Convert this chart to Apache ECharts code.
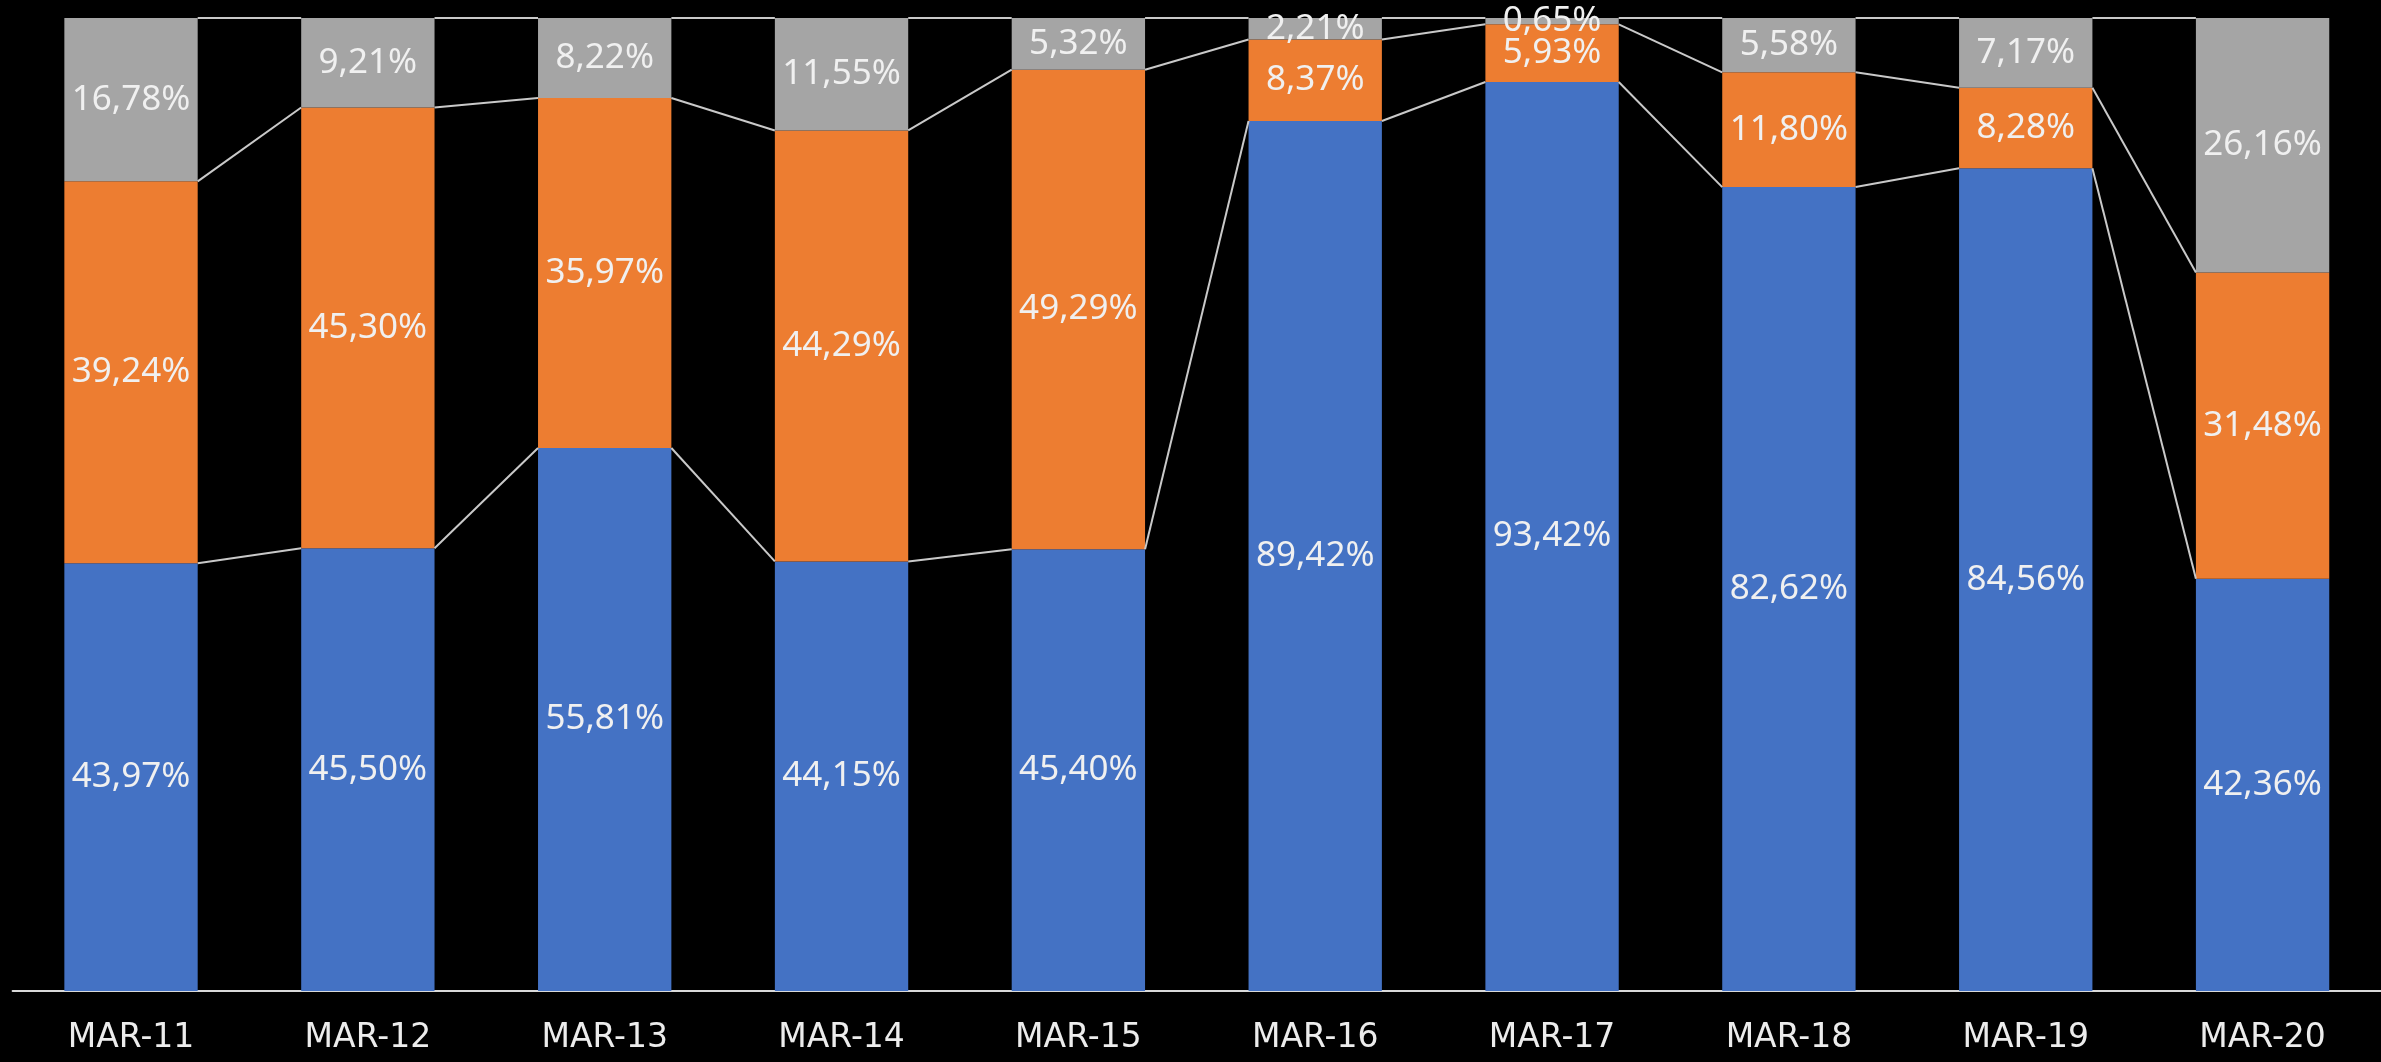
<!DOCTYPE html>
<html>
<head>
<meta charset="utf-8">
<script src="https://cdn.jsdelivr.net/npm/echarts@6/dist/echarts.min.js"></script>
<style>
  html, body { margin: 0; padding: 0; background: #000; }
  #chart { width: 2381px; height: 1062px; }
</style>
</head>
<body>
<div id="chart"></div>
<script>
// Yearly shares (percent) per March snapshot
const categories = ['MAR-11', 'MAR-12', 'MAR-13', 'MAR-14', 'MAR-15', 'MAR-16', 'MAR-17', 'MAR-18', 'MAR-19', 'MAR-20'];
const blueShare   = [43.97, 45.50, 55.81, 44.15, 45.40, 89.42, 93.42, 82.62, 84.56, 42.36];
const orangeShare = [39.24, 45.30, 35.97, 44.29, 49.29, 8.37, 5.93, 11.80, 8.28, 31.48];
const grayShare   = [16.78, 9.21, 8.22, 11.55, 5.32, 2.21, 0.65, 5.58, 7.17, 26.16];

const BAR_RATIO = 0.563;
const FONT = '"Noto Sans", "DejaVu Sans", sans-serif';

const fmt = v => v.toFixed(2).replace('.', ',') + '%';

// Cumulative tops of each stacked segment, used for the connector lines
const cumBlue = blueShare.slice();
const cumOrange = blueShare.map((v, i) => v + orangeShare[i]);
const cumGray = blueShare.map((v, i) => v + orangeShare[i] + grayShare[i]);

const connectorData = [];
[cumBlue, cumOrange, cumGray].forEach(level => {
  for (let i = 0; i < level.length - 1; i++) {
    connectorData.push([i, level[i], level[i + 1]]);
  }
});

function barSeries(name, data, color) {
  return {
    name: name,
    type: 'bar',
    stack: 'share',
    barWidth: (BAR_RATIO * 100) + '%',
    data: data,
    itemStyle: { color: color },
    label: {
      show: true,
      position: 'inside',
      color: '#f0f0f0',
      fontFamily: FONT,
      fontSize: 35,
      formatter: p => fmt(p.value)
    },
    emphasis: { disabled: true },
    z: 2
  };
}

const chart = echarts.init(document.getElementById('chart'), null, { renderer: 'canvas' });
chart.setOption({
  backgroundColor: '#000000',
  animation: false,
  grid: { left: 12.6, top: 18, width: 2381, bottom: 71, containLabel: false },
  xAxis: {
    type: 'category',
    data: categories,
    axisLine: { show: true, lineStyle: { color: '#d9d9d9', width: 2 } },
    axisTick: { show: false },
    axisLabel: {
      color: '#ececec',
      fontFamily: '"DejaVu Sans", sans-serif',
      fontSize: 33,
      margin: 31
    }
  },
  yAxis: {
    type: 'value',
    min: 0,
    max: 100,
    show: false,
    splitLine: { show: false }
  },
  series: [
    barSeries('blue', blueShare, '#4472C4'),
    barSeries('orange', orangeShare, '#ED7D31'),
    barSeries('gray', grayShare, '#A5A5A5'),
    {
      type: 'custom',
      data: connectorData,
      encode: { x: 0, y: [1, 2] },
      silent: true,
      z: 3,
      renderItem: function (params, api) {
        const i = api.value(0);
        const p0 = api.coord([i, api.value(1)]);
        const p1 = api.coord([i + 1, api.value(2)]);
        const half = api.size([1, 0])[0] * BAR_RATIO / 2;
        return {
          type: 'line',
          shape: { x1: p0[0] + half, y1: p0[1], x2: p1[0] - half, y2: p1[1] },
          style: { stroke: '#c9c9c9', lineWidth: 2 }
        };
      }
    }
  ]
});
</script>
</body>
</html>
